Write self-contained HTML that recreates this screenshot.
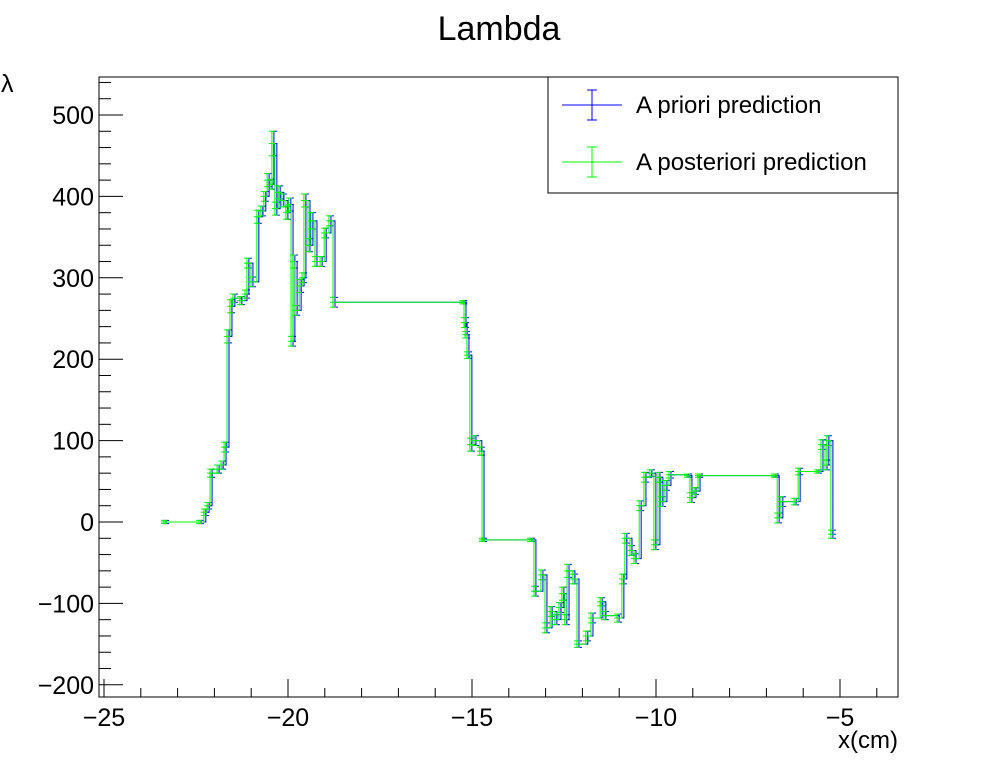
<!DOCTYPE html>
<html><head><meta charset="utf-8"><style>
body{margin:0;background:#fff;}
svg text{font-family:"Liberation Sans",sans-serif;}
</style></head><body>
<svg id="c" width="998" height="774" xmlns="http://www.w3.org/2000/svg">
<rect width="998" height="774" fill="#fff"/>
<text x="499" y="40" font-size="34" text-anchor="middle">Lambda</text>
<rect x="99" y="77" width="799" height="620" fill="none" stroke="#000" stroke-width="1"/>
<g id="axes"></g>
<g id="series"></g>
<text x="1" y="92" font-size="25">λ</text>
<text x="898" y="748" font-size="24" text-anchor="end">x(cm)</text>
<g>
<rect x="548" y="77" width="350" height="116" fill="#fff" stroke="#000" stroke-width="1"/>
<g stroke="#0000ff">
<line x1="562" y1="105" x2="622" y2="105"/><line x1="592" y1="90" x2="592" y2="120"/><line x1="587" y1="90" x2="597" y2="90"/><line x1="587" y1="120" x2="597" y2="120"/>
</g>
<text x="636" y="113" font-size="24">A priori prediction</text>
<g stroke="#00ff00">
<line x1="562" y1="162" x2="622" y2="162"/><line x1="592" y1="147" x2="592" y2="177"/><line x1="587" y1="147" x2="597" y2="147"/><line x1="587" y1="177" x2="597" y2="177"/>
</g>
<text x="636" y="170" font-size="24">A posteriori prediction</text>
</g>
</svg>
<script>
const xVals=[-23.34,-22.39,-22.26,-22.17,-22.09,-21.90,-21.79,-21.71,-21.63,-21.55,-21.47,-21.28,-21.14,-21.09,-20.98,-20.82,-20.71,-20.63,-20.54,-20.46,-20.41,-20.33,-20.24,-20.14,-20.03,-19.95,-19.89,-19.84,-19.78,-19.67,-19.59,-19.54,-19.43,-19.35,-19.24,-19.10,-18.99,-18.86,-18.75,-15.24,-15.19,-15.16,-15.11,-15.03,-14.92,-14.76,-14.70,-13.40,-13.29,-13.10,-12.99,-12.85,-12.72,-12.61,-12.53,-12.45,-12.39,-12.23,-12.12,-11.88,-11.74,-11.49,-11.39,-11.03,-10.90,-10.82,-10.68,-10.57,-10.43,-10.30,-10.14,-10.03,-9.92,-9.84,-9.73,-9.62,-9.13,-9.05,-8.94,-8.83,-6.77,-6.68,-6.58,-6.22,-6.11,-5.60,-5.49,-5.38,-5.33,-5.22];
const prioriY=[0,0,12,20,60,65,70,92,228,265,275,272,280,318,295,375,382,400,420,415,465,385,405,395,380,390,222,320,260,290,300,395,340,370,320,320,355,370,270,270,245,230,205,95,100,87,-22,-22,-85,-65,-130,-110,-120,-105,-88,-120,-60,-70,-150,-140,-118,-98,-115,-118,-70,-20,-35,-45,20,55,60,-28,55,25,45,58,57,30,38,57,57,5,25,25,62,62,95,70,100,-15];
const posterioriY=[0,0,12,20,60,65,70,92,228,265,275,272,280,318,295,375,382,400,420,415,465,385,405,395,380,390,222,320,260,290,300,395,340,370,320,320,355,370,270,270,245,230,205,95,100,87,-22,-22,-85,-65,-130,-110,-120,-105,-88,-120,-60,-70,-150,-140,-118,-98,-115,-118,-70,-20,-35,-45,20,55,60,-28,55,25,45,58,57,30,38,57,57,5,25,25,62,62,95,70,100,-15];
const errVals=[2,2,4,4,5,5,5,6,8,8,5,5,5,6,6,8,6,6,8,6,15,8,8,8,8,8,6,8,6,8,6,8,8,10,6,6,6,6,6,2,6,4,4,8,6,5,2,2,6,6,6,6,6,6,8,6,8,6,4,6,6,5,5,5,6,6,6,6,6,6,4,6,6,6,6,4,2,6,4,2,2,6,6,4,4,2,6,6,6,5];
const xTicks=[-25,-20,-15,-10,-5];
const yTicks=[-200,-100,0,100,200,300,400,500];
const NS="http://www.w3.org/2000/svg";
const X=v=>104+(v+25)*36.8;
const Y=v=>522-v*0.814;
const ax=document.getElementById('axes');
function ln(p,x1,y1,x2,y2,c){const l=document.createElementNS(NS,'line');l.setAttribute('x1',x1);l.setAttribute('y1',y1);l.setAttribute('x2',x2);l.setAttribute('y2',y2);l.setAttribute('stroke',c);l.setAttribute('stroke-width',1);p.appendChild(l);return l;}
for(let v=-25;v<=-4;v++){const l=ln(ax,X(v),697,X(v),697-(v%5===0?18:9),'#000');

}
for(let v=-200;v<=540;v+=20){const l=ln(ax,99,Y(v),99+(v%100===0?24:12),Y(v),'#000');

}
xTicks.forEach(v=>{const t=document.createElementNS(NS,'text');t.setAttribute('x',X(v));t.setAttribute('y',726);t.setAttribute('font-size',25);t.setAttribute('text-anchor','middle');t.textContent='\u2212'+Math.abs(v);


ax.appendChild(t);});
yTicks.forEach(v=>{const t=document.createElementNS(NS,'text');t.setAttribute('x',94);t.setAttribute('y',Y(v)+9);t.setAttribute('font-size',25);t.setAttribute('text-anchor','end');t.textContent=(v<0?'\u2212':'')+Math.abs(v);


ax.appendChild(t);});
const sg=document.getElementById('series');
function draw(ys,color,dx,name){
 const g=document.createElementNS(NS,'g');
 
 
 let d='';
 for(let i=0;i<xVals.length;i++){const px=X(xVals[i])+dx,py=Y(ys[i]);
  if(i===0)d+='M'+px+','+py;else d+='H'+px+'V'+py;}
 const p=document.createElementNS(NS,'path');p.setAttribute('d',d);p.setAttribute('fill','none');p.setAttribute('stroke',color);p.setAttribute('stroke-width',1);
 
 
 g.appendChild(p);
 for(let i=0;i<xVals.length;i++){const px=X(xVals[i])+dx,py=Y(ys[i]),e=errVals[i]*0.814;
  const b=document.createElementNS(NS,'path');
  b.setAttribute('d','M'+px+','+(py-e)+'V'+(py+e)+'M'+(px-3)+','+(py-e)+'H'+(px+3)+'M'+(px-3)+','+(py+e)+'H'+(px+3)+'M'+(px-3)+','+py+'H'+(px+3));
  b.setAttribute('stroke',color);b.setAttribute('fill','none');
  
  
  g.appendChild(b);}
 sg.appendChild(g);}
draw(prioriY,'#0000ff',1,'a-priori-series');
draw(posterioriY,'#00ff00',-1,'a-posteriori-series');
</script>
</body></html>
